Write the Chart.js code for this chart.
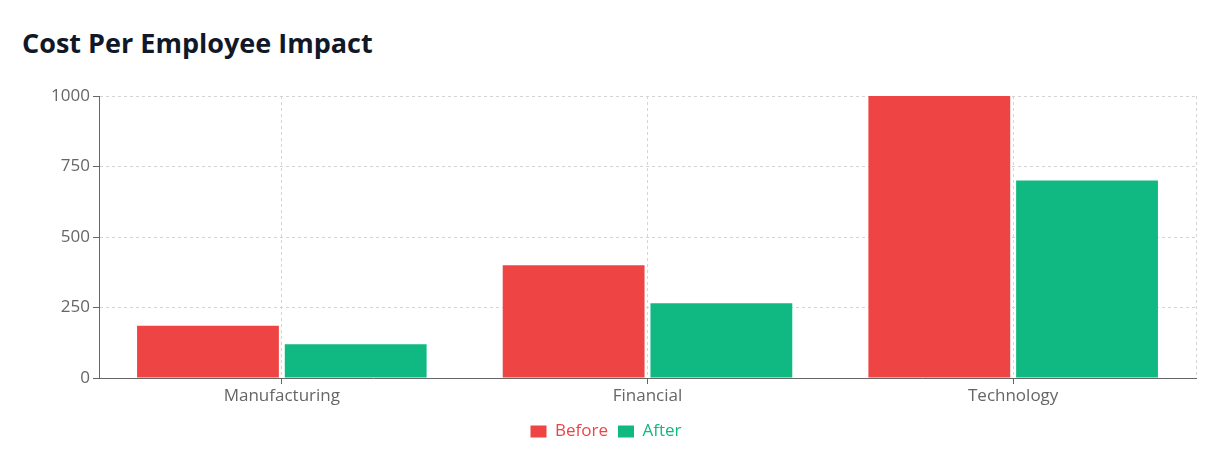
<!DOCTYPE html>
<html>
<head>
<meta charset="utf-8">
<script src="https://cdn.jsdelivr.net/npm/chart.js@4"></script>
<style>
  html, body { margin: 0; padding: 0; background: #fff; }
  body { width: 1231px; height: 456px; position: relative; overflow: hidden; font-family: "Open Sans", sans-serif; }
  h2 { position: absolute; left: 22px; top: 27px; margin: 0; font-size: 27px; font-weight: 700; color: #111827; line-height: 1.2; }
  #wrap { position: absolute; left: 0; top: 80px; width: 1231px; height: 376px; }
</style>
</head>
<body>
<h2>Cost Per Employee Impact</h2>
<div id="wrap"><canvas id="chart"></canvas></div>
<script>
const categories = ["Manufacturing", "Financial", "Technology"];
const before = [185, 400, 1000];
const after = [120, 265, 700];
const yTicks = [0, 250, 500, 750, 1000];

const RED = "#ef4444";
const GREEN = "#10b981";
const GRID = "#d4d4d4";
const AXIS = "#666666";

Chart.defaults.font.family = '"Open Sans", sans-serif';
Chart.defaults.font.size = 17;
Chart.defaults.color = AXIS;

// dashed right edge like the original grid box
const edgeLine = {
  id: "edgeLine",
  beforeDatasetsDraw(chart) {
    const { ctx, chartArea } = chart;
    ctx.save();
    ctx.strokeStyle = GRID;
    ctx.lineWidth = 1;
    ctx.setLineDash([3, 3]);
    ctx.beginPath();
    ctx.moveTo(chartArea.right + 0.5, chartArea.top);
    ctx.lineTo(chartArea.right + 0.5, chartArea.bottom);
    ctx.stroke();
    ctx.restore();
  }
};

new Chart(document.getElementById("chart"), {
  type: "bar",
  data: {
    labels: categories,
    datasets: [
      { label: "Before", data: before, backgroundColor: RED, categoryPercentage: 0.808, barPercentage: 0.96 },
      { label: "After", data: after, backgroundColor: GREEN, categoryPercentage: 0.808, barPercentage: 0.96 }
    ]
  },
  options: {
    responsive: true,
    maintainAspectRatio: false,
    animation: false,
    layout: { padding: { top: 16, right: 35, bottom: 6, left: 16 } },
    plugins: {
      tooltip: { enabled: false },
      legend: {
        position: "bottom",
        labels: {
          boxWidth: 16,
          boxHeight: 12,
          padding: 10,
          generateLabels(chart) {
            return chart.data.datasets.map((ds, i) => ({
              text: ds.label,
              fillStyle: ds.backgroundColor,
              strokeStyle: ds.backgroundColor,
              lineWidth: 0,
              fontColor: ds.backgroundColor,
              hidden: false,
              datasetIndex: i
            }));
          }
        }
      }
    },
    scales: {
      x: {
        grid: { offset: false, color: GRID, tickColor: AXIS, tickLength: 6 },
        border: { color: AXIS, dash: [3, 3] },
        ticks: { color: AXIS, padding: 2 },
        afterFit(scale) { scale.height = 35; }
      },
      y: {
        min: 0,
        max: 1000,
        afterBuildTicks(scale) { scale.ticks = yTicks.map(v => ({ value: v })); },
        grid: { color: GRID, tickColor: AXIS, tickLength: 6 },
        border: { color: AXIS, dash: [3, 3] },
        ticks: { color: AXIS, padding: 3, callback: v => String(v) },
        afterFit(scale) { scale.width = 83; }
      }
    }
  },
  plugins: [edgeLine]
});
</script>
</body>
</html>
